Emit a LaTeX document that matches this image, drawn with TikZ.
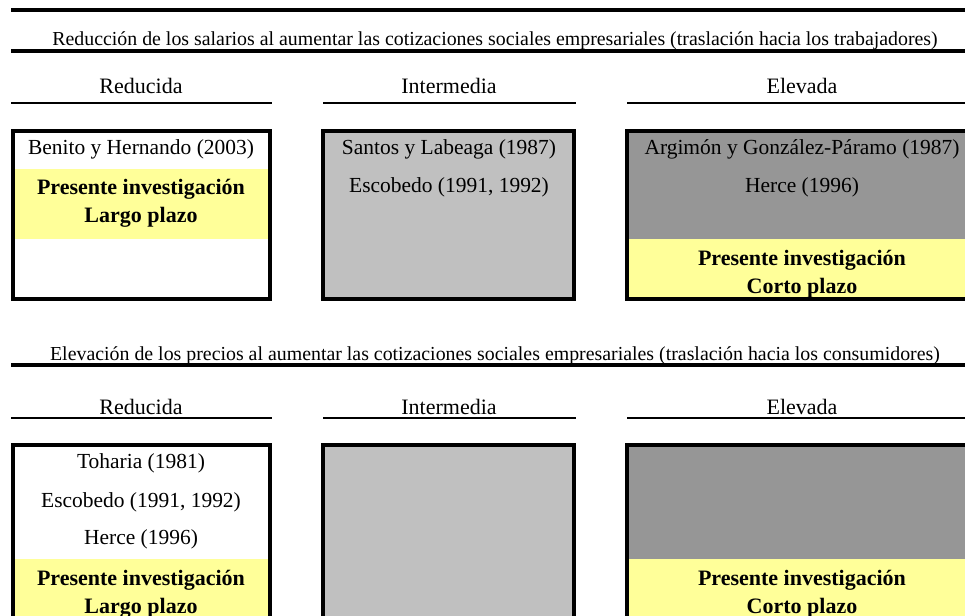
\documentclass[tikz,border=0pt]{standalone}
\usepackage{fontspec}
\setmainfont{Liberation Serif}
\definecolor{bandyellow}{HTML}{FFFF99}
\definecolor{midgray}{HTML}{C0C0C0}
\definecolor{highgray}{HTML}{969696}
\tikzset{
  thickrule/.style={line width=3.2pt},
  headrule/.style={line width=2pt},
  boxframe/.style={line width=3.4pt},
  titletext/.style={anchor=base,font=\fontsize{14.9}{18}\selectfont},
  headtext/.style={anchor=base,font=\fontsize{16.5}{19}\selectfont},
  reftext/.style={anchor=base,font=\fontsize{16.1}{19}\selectfont},
  prestext/.style={anchor=base,font=\bfseries\fontsize{16.5}{19}\selectfont}
}
\begin{document}
\begin{tikzpicture}[x=0.75pt,y=-0.75pt]
    \useasboundingbox (0,0) rectangle (965,615);
    \clip (0,0) rectangle (965,615);

    % Title rules
    \draw [thickrule] (11,10) to (980,10);
    \draw [thickrule] (11,51) to (980,51);
    \draw [thickrule] (11,365) to (980,365);

    % Titles
    \node (titleA) at (495,45) [titletext] {Reducción de los salarios al aumentar las cotizaciones sociales empresariales (traslación hacia los trabajadores)};
    \node (titleB) at (495,360) [titletext] {Elevación de los precios al aumentar las cotizaciones sociales empresariales (traslación hacia los consumidores)};

    % Column headers
    \foreach \yb/\yr/\k in {93/103/A,414/418/B} {
        \draw [headrule] (11,\yr) to (272,\yr);
        \draw [headrule] (323,\yr) to (576,\yr);
        \draw [headrule] (627,\yr) to (977,\yr);
        \node (red\k) at (141,\yb) [headtext] {Reducida};
        \node (int\k) at (449,\yb) [headtext] {Intermedia};
        \node (ele\k) at (802,\yb) [headtext] {Elevada};
    }

    % Upper boxes
    \fill [bandyellow] (13,169) rectangle (270,239);
    \fill [midgray] (323,131) rectangle (574,299);
    \fill [highgray] (627,131) rectangle (977,239);
    \fill [bandyellow] (627,239) rectangle (977,299);
    \draw [boxframe] (13,131) rectangle (270,299);
    \draw [boxframe] (323,131) rectangle (574,299);
    \draw [boxframe] (627,131) rectangle (977,299);

    \node (benito) at (141,154) [reftext] {Benito y Hernando (2003)};
    \node (presA) at (141,194) [prestext] {Presente investigación};
    \node (largoA) at (141,222) [prestext] {Largo plazo};
    \node (santos) at (449,154) [reftext] {Santos y Labeaga (1987)};
    \node (escoA) at (449,192) [reftext] {Escobedo (1991, 1992)};
    \node (argimon) at (802,154) [reftext] {Argimón y González-Páramo (1987)};
    \node (herceA) at (802,192) [reftext] {Herce (1996)};
    \node (presB) at (802,265) [prestext] {Presente investigación};
    \node (cortoA) at (802,293) [prestext] {Corto plazo};

    % Lower boxes
    \fill [bandyellow] (13,559) rectangle (270,660);
    \fill [midgray] (323,445) rectangle (574,660);
    \fill [highgray] (627,445) rectangle (977,559);
    \fill [bandyellow] (627,559) rectangle (977,660);
    \draw [boxframe] (13,445) rectangle (270,660);
    \draw [boxframe] (323,445) rectangle (574,660);
    \draw [boxframe] (627,445) rectangle (977,660);

    \node (toharia) at (141,468) [reftext] {Toharia (1981)};
    \node (escoB) at (141,507) [reftext] {Escobedo (1991, 1992)};
    \node (herceB) at (141,544) [reftext] {Herce (1996)};
    \node (presC) at (141,585) [prestext] {Presente investigación};
    \node (largoB) at (141,613) [prestext] {Largo plazo};
    \node (presD) at (802,585) [prestext] {Presente investigación};
    \node (cortoB) at (802,613) [prestext] {Corto plazo};
\end{tikzpicture}
\end{document}
